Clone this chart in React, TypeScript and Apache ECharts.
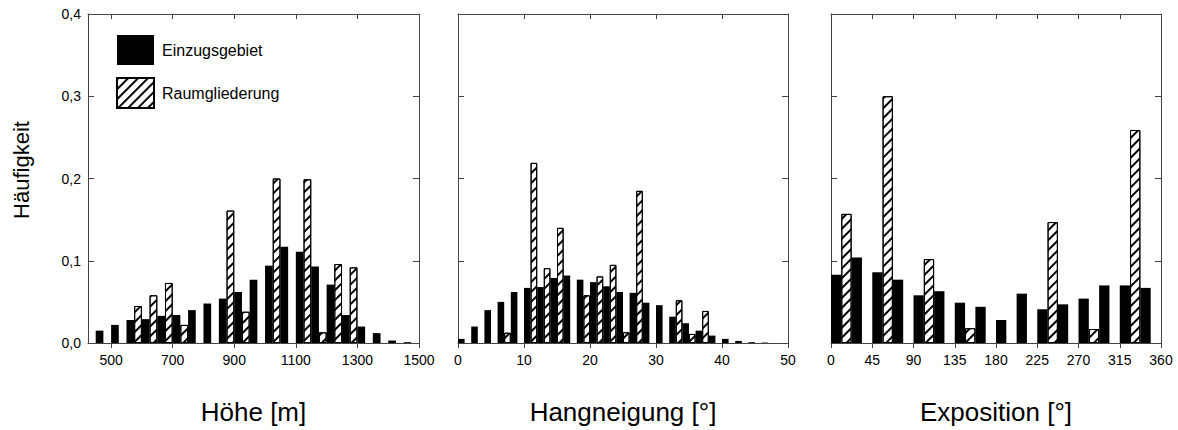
import React, { useEffect, useRef } from "react";
import * as echarts from "echarts";

// Höhe [m]: 50 m classes, class centres
const hoeheBins = [475, 525, 575, 625, 675, 725, 775, 825, 875, 925, 975, 1025, 1075, 1125, 1175, 1225, 1275, 1325, 1375, 1425, 1475];
const hoeheEinzug = [0.015, 0.022, 0.028, 0.029, 0.033, 0.034, 0.040, 0.048, 0.054, 0.062, 0.077, 0.094, 0.117, 0.111, 0.093, 0.071, 0.034, 0.020, 0.012, 0.003, 0.001];
const hoeheRaumBins = [575, 625, 675, 725, 875, 925, 1025, 1125, 1175, 1225, 1275];
const hoeheRaum = [0.045, 0.058, 0.073, 0.022, 0.161, 0.038, 0.200, 0.199, 0.013, 0.096, 0.092];

// Hangneigung [°]: 2° classes
const neigungBins = [1, 3, 5, 7, 9, 11, 13, 15, 17, 19, 21, 23, 25, 27, 29, 31, 33, 35, 37, 39, 41, 43, 45, 47];
const neigungEinzug = [0.005, 0.020, 0.040, 0.050, 0.062, 0.067, 0.068, 0.079, 0.082, 0.077, 0.074, 0.069, 0.062, 0.061, 0.049, 0.046, 0.032, 0.024, 0.015, 0.009, 0.005, 0.0025, 0.001, 0.0005];
const neigungRaumBins = [7, 11, 13, 15, 19, 21, 23, 25, 27, 33, 35, 37];
const neigungRaum = [0.0125, 0.219, 0.091, 0.140, 0.058, 0.081, 0.095, 0.013, 0.185, 0.052, 0.011, 0.039];

// Exposition [°]: 22.5° classes
const expoBins = [11.25, 33.75, 56.25, 78.75, 101.25, 123.75, 146.25, 168.75, 191.25, 213.75, 236.25, 258.75, 281.25, 303.75, 326.25, 348.75];
const expoEinzug = [0.083, 0.104, 0.086, 0.077, 0.058, 0.063, 0.049, 0.044, 0.028, 0.060, 0.041, 0.047, 0.054, 0.070, 0.070, 0.067];
const expoRaumBins = [11.25, 56.25, 101.25, 146.25, 236.25, 281.25, 326.25];
const expoRaum = [0.157, 0.300, 0.102, 0.018, 0.147, 0.017, 0.259];

const yTicks = [0, 0.1, 0.2, 0.3, 0.4];
const hoeheTicks = [500, 700, 900, 1100, 1300, 1500];

const FONT = "'Liberation Sans', Arial, sans-serif";
const AXIS_COLOR = "#444";

// diagonal "/" hatching for the Raumgliederung bars
const hatch = {
  symbol: "rect",
  symbolSize: 1,
  dashArrayX: [1, 0],
  dashArrayY: [1.2, 4.8],
  rotation: -Math.PI / 4,
  color: "#000",
  backgroundColor: "#fff",
};

const pairs = (xs: number[], ys: number[]) => xs.map((x, i) => [x, ys[i]]);

export default function App() {
  const ref = useRef<HTMLDivElement>(null);

  useEffect(() => {
    if (!ref.current) return;
    const chart = echarts.init(ref.current, undefined, { renderer: "svg" });

    const grids = [
      { left: 88, top: 14, width: 331, height: 329 },
      { left: 458, top: 14, width: 330, height: 329 },
      { left: 831, top: 14, width: 330, height: 329 },
    ];

    const xDefs: any[] = [
      { min: 425, max: 1500, ticks: hoeheTicks, name: "Höhe [m]" },
      { min: 0, max: 50, interval: 10, name: "Hangneigung [°]" },
      { min: 0, max: 360, interval: 45, name: "Exposition [°]" },
    ];

    const xAxis: any[] = [];
    const yAxis: any[] = [];
    xDefs.forEach((d, i) => {
      const common: any = {
        type: "value",
        gridIndex: i,
        min: d.min,
        max: d.max,
        splitLine: { show: false },
        axisLine: { show: true, onZero: false, lineStyle: { color: AXIS_COLOR, width: 1 } },
      };
      if (d.interval) common.interval = d.interval;
      xAxis.push({
        ...common,
        position: "bottom",
        name: d.name,
        nameLocation: "middle",
        nameGap: 56,
        nameTextStyle: { fontSize: 26, color: "#000", fontFamily: FONT },
        axisTick: {
          show: true,
          inside: false,
          length: 5,
          lineStyle: { color: AXIS_COLOR },
          ...(d.ticks ? { customValues: d.ticks } : {}),
        },
        axisLabel: {
          show: true,
          margin: 10,
          fontSize: 14,
          color: "#000",
          fontFamily: FONT,
          showMinLabel: true,
          showMaxLabel: true,
          formatter: (v: number) => String(v),
          ...(d.ticks ? { customValues: d.ticks } : {}),
        },
      });
      xAxis.push({
        ...common,
        position: "top",
        axisTick: {
          show: true,
          inside: true,
          length: 5,
          lineStyle: { color: AXIS_COLOR },
          ...(d.ticks ? { customValues: d.ticks } : {}),
        },
        axisLabel: { show: false },
      });

      const yCommon: any = {
        type: "value",
        gridIndex: i,
        min: 0,
        max: 0.4,
        interval: 0.1,
        splitLine: { show: false },
        axisLine: { show: true, onZero: false, lineStyle: { color: AXIS_COLOR, width: 1 } },
        axisTick: { show: true, inside: true, length: 6, lineStyle: { color: AXIS_COLOR } },
      };
      yAxis.push({
        ...yCommon,
        position: "left",
        axisLabel: {
          show: i === 0,
          margin: 7,
          fontSize: 14,
          color: "#000",
          fontFamily: FONT,
          formatter: (v: number) =>
            yTicks.includes(Math.round(v * 10) / 10) ? v.toFixed(1).replace(".", ",") : "",
        },
      });
      yAxis.push({ ...yCommon, position: "right", axisLabel: { show: false } });
    });

    const data = [
      { e: pairs(hoeheBins, hoeheEinzug), r: pairs(hoeheRaumBins, hoeheRaum), w: 7.7 },
      { e: pairs(neigungBins, neigungEinzug), r: pairs(neigungRaumBins, neigungRaum), w: 6.6 },
      { e: pairs(expoBins, expoEinzug), r: pairs(expoRaumBins, expoRaum), w: 10.3 },
    ];

    const series: any[] = [];
    data.forEach((d, i) => {
      series.push({
        type: "bar",
        name: "Einzugsgebiet",
        xAxisIndex: i * 2,
        yAxisIndex: i * 2,
        data: d.e,
        barWidth: d.w,
        barGap: "0%",
        itemStyle: { color: "#000", borderColor: "#000", borderWidth: 0 },
      });
      series.push({
        type: "bar",
        name: "Raumgliederung",
        xAxisIndex: i * 2,
        yAxisIndex: i * 2,
        data: d.r,
        barWidth: d.w,
        barGap: "0%",
        itemStyle: { color: "#fff", borderColor: "#000", borderWidth: 1, decal: hatch },
      });
    });

    chart.setOption({
      animation: false,
      backgroundColor: "#fff",
      textStyle: { fontFamily: FONT },
      grid: grids,
      xAxis,
      yAxis,
      series,
      legend: {
        show: true,
        orient: "vertical",
        left: 111,
        top: 30,
        itemWidth: 37,
        itemHeight: 30,
        itemGap: 12,
        icon: "rect",
        data: ["Einzugsgebiet", "Raumgliederung"],
        textStyle: { fontSize: 16, color: "#000", fontFamily: FONT, padding: [0, 0, 0, 3] },
      },
      graphic: [
        {
          type: "text",
          x: 21,
          y: 170,
          rotation: Math.PI / 2,
          style: {
            text: "Häufigkeit",
            font: `22px ${FONT}`,
            fill: "#000",
            align: "center",
            verticalAlign: "middle",
          },
        },
      ],
    });

    return () => chart.dispose();
  }, []);

  return (
    <div
      ref={ref}
      style={{ position: "fixed", left: 0, top: 0, width: 1178, height: 430, background: "#fff" }}
    />
  );
}
